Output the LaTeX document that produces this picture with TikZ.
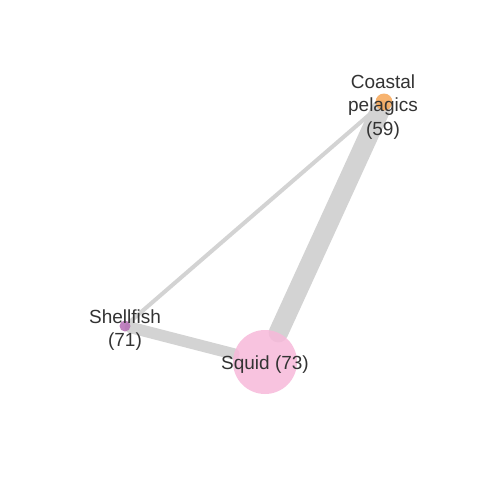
\documentclass[tikz,border=0pt]{standalone}
\usepackage{fontspec}
\setmainfont{Liberation Sans}
\usetikzlibrary{backgrounds}
\definecolor{edgegray}{HTML}{D3D3D3}
\definecolor{txt}{HTML}{333333}
\definecolor{cpink}{HTML}{F7B9DA}
\definecolor{corange}{HTML}{F6A656}
\definecolor{cpurple}{HTML}{B46DB4}
\tikzset{
  vert/.style={circle, inner sep=0pt, draw=none, fill opacity=0.85},
  lab/.style={align=center, text=txt, font=\fontsize{19}{23.5}\selectfont, inner sep=0pt},
  link/.style={draw=edgegray, line cap=round},
}
\begin{document}
\begin{tikzpicture}[x=1pt,y=-1pt]
\useasboundingbox (0,0) rectangle (480,480);
\node[vert, fill=corange, minimum size=17pt] (cp) at (384,102) {};
\node[vert, fill=cpurple, minimum size=11pt] (sh) at (125,326) {};
\node[vert, fill=cpink, minimum size=64pt] (sq) at (265,362) {};
\begin{scope}[on background layer]
\fill[white] (0,0) rectangle (480,480);
\draw[link, line width=4pt] (cp) -- (sh);
\draw[link, line width=11.5pt] (sh) -- (sq);
\draw[link, line width=19.5pt] (sq) -- (cp);
\end{scope}
\node[lab] (cpl) at (383,107) {Coastal\\pelagics\\(59)};
\node[lab] (shl) at (125,330) {Shellfish\\(71)};
\node[lab] (sql) at (265,365) {Squid (73)};
\end{tikzpicture}
\end{document}
